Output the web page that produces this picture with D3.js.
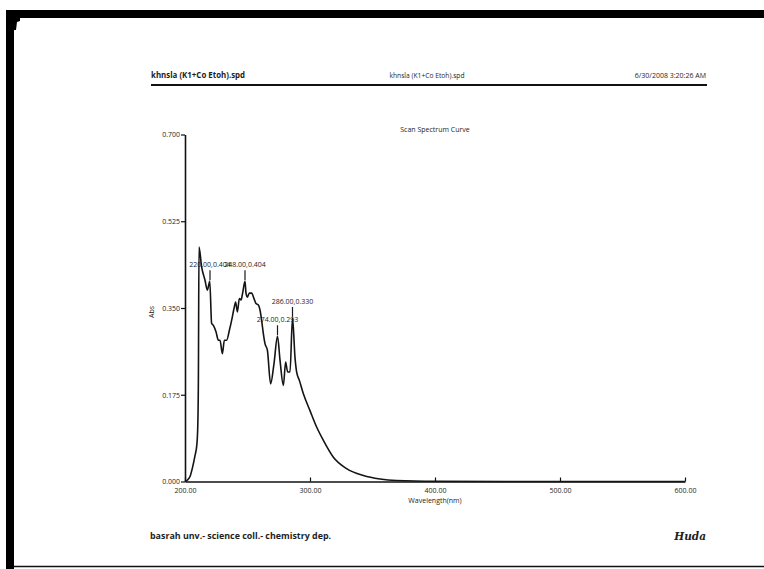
<!DOCTYPE html>
<html>
<head>
<meta charset="utf-8">
<script src="https://cdn.jsdelivr.net/npm/d3@7"></script>
<style>
  body { margin: 0; background: #fff; }
  text { font-family: "Open Sans", sans-serif; fill: #1e1e1e; }
</style>
</head>
<body>
<div id="chart"></div>
<script>
// spectrum
const wavelength = [200, 202, 204, 206, 208, 209.5, 210.2, 210.7, 211.2, 213.3, 216, 217.9, 219.8,
  221.3, 222.7, 224.8, 226.7, 228, 229.9, 231.5, 233.3, 235.5, 237.3, 239.2, 240.5, 241.9, 243.5,
  244.8, 246.1, 248, 248.8, 249.9, 251.5, 253.3, 255.2, 256.8, 258.7, 260, 261.3, 262.7, 264,
  265.9, 268.5, 271.2, 274, 276, 278.7, 280.5, 282.1, 284, 286, 288, 289.3, 291.5, 294.7, 300,
  305.3, 310.7, 318.7, 329.3, 342.7, 356, 369, 400, 500, 600];
const absorbance = [0, 0.003, 0.010, 0.028, 0.052, 0.075, 0.11, 0.20, 0.473, 0.433, 0.406, 0.386, 0.404,
  0.319, 0.315, 0.302, 0.285, 0.285, 0.258, 0.285, 0.285, 0.305, 0.325, 0.349, 0.362, 0.342, 0.369,
  0.366, 0.380, 0.404, 0.380, 0.372, 0.380, 0.380, 0.369, 0.359, 0.356, 0.346, 0.325, 0.298, 0.278,
  0.265, 0.197, 0.238, 0.293, 0.245, 0.194, 0.241, 0.221, 0.221, 0.330, 0.250, 0.221, 0.204, 0.177, 0.143,
  0.110, 0.083, 0.049, 0.026, 0.012, 0.005, 0.002, 0.0005, 0, 0];

const peakWl = [220, 248, 274, 286];
const peakAbs = [0.404, 0.404, 0.293, 0.330];

const xTicks = [200, 300, 400, 500, 600];
const yTicks = [0, 0.175, 0.35, 0.525, 0.7];

const W = 764, H = 569;

const svg = d3.select("#chart").append("svg")
  .attr("width", W)
  .attr("height", H);

const x = d3.scaleLinear([200, 600], [185, 685]);
const y = d3.scaleLinear([0, 0.7], [481.5, 134.5]);

// scan border
svg.append("rect").attr("x", 6).attr("y", 10).attr("width", W - 6).attr("height", 8).attr("fill", "#000");
svg.append("rect").attr("x", 6).attr("y", 10).attr("width", 8).attr("height", H - 10).attr("fill", "#000");
svg.append("path").attr("d", "M14,18 L20,18 L20,21 L17,22 L16,30 L14,30 Z").attr("fill", "#000");
svg.append("line").attr("x1", 14).attr("x2", W).attr("y1", 566.5).attr("y2", 566.5)
  .attr("stroke", "#111").attr("stroke-width", 1.5);

// header
svg.append("text").attr("x", 151).attr("y", 78)
  .style("font-size", "7.9px").style("font-weight", "bold")
  .text("khnsla (K1+Co Etoh).spd");
svg.append("text").attr("x", 427).attr("y", 78).attr("text-anchor", "middle")
  .style("font-size", "6.7px")
  .text("khnsla (K1+Co Etoh).spd");
svg.append("text").attr("x", 706).attr("y", 78).attr("text-anchor", "end")
  .style("font-size", "7px")
  .text("6/30/2008 3:20:26 AM");
svg.append("line").attr("x1", 151).attr("x2", 707).attr("y1", 85).attr("y2", 85)
  .attr("stroke", "#111").attr("stroke-width", 2);

svg.append("text").attr("x", 435).attr("y", 131.5).attr("text-anchor", "middle")
  .style("font-size", "7px")
  .text("Scan Spectrum Curve");

// axes
const xAxis = d3.axisBottom(x).tickValues(xTicks).tickFormat(d3.format(".2f"))
  .tickSizeInner(-4).tickSizeOuter(0).tickPadding(7);
const gx = svg.append("g").attr("transform", `translate(0,${y(0)})`).call(xAxis);
gx.select(".domain").attr("stroke", "#111").attr("stroke-width", 1.6);
gx.selectAll(".tick line").attr("stroke", "#111").attr("stroke-width", 1.2);
gx.selectAll(".tick text").style("font-size", "7px").style("font-family", "Open Sans").attr("fill", "#1e1e1e");

const yAxis = d3.axisLeft(y).tickValues(yTicks).tickFormat(d3.format(".3f"))
  .tickSizeInner(4).tickSizeOuter(0).tickPadding(1);
const gy = svg.append("g").attr("transform", `translate(${x(200)},0)`).call(yAxis);
gy.select(".domain").attr("stroke", "#111").attr("stroke-width", 1.6);
gy.selectAll(".tick line").attr("stroke", "#111").attr("stroke-width", 1.2);
gy.selectAll(".tick text").style("font-size", "7px").style("font-family", "Open Sans").attr("fill", "#1e1e1e");

svg.append("text").attr("x", 435).attr("y", 503).attr("text-anchor", "middle")
  .style("font-size", "7px").text("Wavelength(nm)");
svg.append("text").attr("transform", "translate(154,312) rotate(-90)").attr("text-anchor", "middle")
  .style("font-size", "7px").text("Abs");

// spectrum
const pts = wavelength.map((w, i) => [w, absorbance[i]]);
const line = d3.line().x(d => x(d[0])).y(d => y(d[1])).curve(d3.curveMonotoneX);
svg.append("path").datum(pts)
  .attr("d", line)
  .attr("fill", "none")
  .attr("stroke", "#141414")
  .attr("stroke-width", 1.6)
  .attr("stroke-linejoin", "round");

// peak markers (labels overlap in the original printout too)
const peaks = peakWl.map((w, i) => ({ w, a: peakAbs[i] }));
const pk = svg.append("g").selectAll("g").data(peaks).join("g");
pk.append("line")
  .attr("x1", d => x(d.w)).attr("x2", d => x(d.w))
  .attr("y1", d => y(d.a) - 1).attr("y2", d => y(d.a) - 11)
  .attr("stroke", "#1a1a1a").attr("stroke-width", 1.2);
pk.append("text")
  .attr("x", d => x(d.w)).attr("y", d => y(d.a) - 14)
  .attr("text-anchor", "middle")
  .style("font-size", "7px")
  .text(d => `${d.w.toFixed(2)},${d.a.toFixed(3)}`);

// footer
svg.append("text").attr("x", 150).attr("y", 539)
  .style("font-size", "8.9px").style("font-weight", "bold")
  .text("basrah unv.- science coll.- chemistry dep.");
svg.append("text").attr("x", 706).attr("y", 540).attr("text-anchor", "end")
  .style("font-family", "DejaVu Serif, serif").style("font-size", "10.5px")
  .style("font-weight", "bold").style("font-style", "italic")
  .text("Huda");
</script>
</body>
</html>
